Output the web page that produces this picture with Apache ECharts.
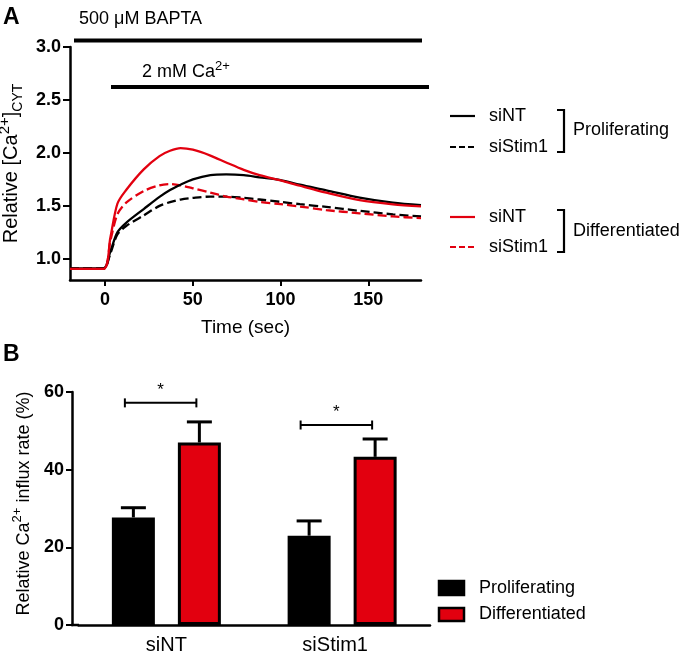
<!DOCTYPE html>
<html>
<head>
<meta charset="utf-8">
<script src="https://cdn.jsdelivr.net/npm/echarts@6/dist/echarts.min.js"></script>
<style>html,body{margin:0;padding:0;background:#fff}#c{width:685px;height:653px}</style>
</head>
<body>
<div id="c"></div>
<script>
// ---------- Panel A data ----------
const times = [-20, -1, 3, 7, 12, 22, 31, 37, 43, 50, 60, 69, 79, 88, 100, 111, 126, 145, 164, 180];
const profSiNT   = [0.91, 0.91, 1.07, 1.25, 1.34, 1.47, 1.585, 1.65, 1.70, 1.75, 1.79, 1.797, 1.79, 1.77, 1.744, 1.70, 1.647, 1.578, 1.53, 1.506];
const profSiStim1 = [0.91, 0.91, 1.05, 1.23, 1.31, 1.41, 1.50, 1.535, 1.56, 1.575, 1.5875, 1.5875, 1.575, 1.56, 1.5375, 1.516, 1.49, 1.453, 1.42, 1.40];
const diffSiNT   = [0.905, 0.905, 1.20, 1.52, 1.65, 1.845, 1.97, 2.02, 2.045, 2.03, 1.975, 1.91, 1.84, 1.79, 1.74, 1.69, 1.625, 1.555, 1.515, 1.495];
const diffSiStim1 = [0.905, 0.905, 1.17, 1.42, 1.53, 1.64, 1.694, 1.706, 1.694, 1.666, 1.625, 1.588, 1.5625, 1.5375, 1.516, 1.494, 1.46, 1.43, 1.40, 1.384];
const aXTicks = [0, 50, 100, 150];
const aYTicks = [1.0, 1.5, 2.0, 2.5, 3.0];

// ---------- Panel B data ----------
const bCategories = ['siNT', 'siStim1'];
const bProlif = [27.7, 23.0];
const bProlifErr = [30.2, 26.8];
const bDiff = [47.0, 43.3];
const bDiffErr = [52.3, 47.9];
const bSigY = [57.2, 51.5];
const bYTicks = [0, 20, 40, 60];

const FONT = '"Liberation Sans", Arial, Helvetica, sans-serif';
const RED = '#e2000f';
const chart = echarts.init(document.getElementById('c'), null, {renderer: 'canvas'});

function pairs(ts, vs) { return ts.map((t, i) => [t, vs[i]]); }

const lineBase = {type: 'line', xAxisIndex: 0, yAxisIndex: 0, showSymbol: false, symbol: 'none', smooth: 0.3, clip: true, z: 3};

const BW = 43, BGAP = 23, OFF = (BW + BGAP) / 2;

function errRender(sign) {
  return function (params, api) {
    const c = api.value(0);
    const top = api.coord([c, api.value(1)]);
    const et = api.coord([c, api.value(2)]);
    const x = top[0] + sign * OFF;
    return {type: 'group', children: [
      {type: 'line', shape: {x1: x, y1: top[1], x2: x, y2: et[1]}, style: {stroke: '#000', lineWidth: 3}},
      {type: 'line', shape: {x1: x - 12.5, y1: et[1], x2: x + 12.5, y2: et[1]}, style: {stroke: '#000', lineWidth: 3}}
    ]};
  };
}

function sigRender(params, api) {
  const c = api.value(0);
  const p = api.coord([c, api.value(1)]);
  const x1 = p[0] - 41.5, x2 = p[0] + 30;
  const y = p[1];
  return {type: 'group', children: [
    {type: 'line', shape: {x1: x1, y1: y, x2: x2, y2: y}, style: {stroke: '#000', lineWidth: 2}},
    {type: 'line', shape: {x1: x1, y1: y - 4.5, x2: x1, y2: y + 4.5}, style: {stroke: '#000', lineWidth: 2}},
    {type: 'line', shape: {x1: x2, y1: y - 4.5, x2: x2, y2: y + 4.5}, style: {stroke: '#000', lineWidth: 2}},
    {type: 'text', style: {text: '*', x: (x1 + x2) / 2, y: y - 4, align: 'center', verticalAlign: 'bottom', font: '17px ' + FONT, fill: '#000'}}
  ]};
}

const supRich = {
  a: {fontSize: 20, fontFamily: FONT, color: '#000', lineHeight: 28},
  s: {fontSize: 15, fontFamily: FONT, color: '#000', verticalAlign: 'top', lineHeight: 15},
  b: {fontSize: 14, fontFamily: FONT, color: '#000', verticalAlign: 'bottom', lineHeight: 13}
};

function axisLine() { return {show: true, onZero: false, lineStyle: {color: '#000', width: 2.5}}; }

const option = {
  backgroundColor: '#fff',
  animation: false,
  grid: [
    {left: 70, top: 47, width: 351, height: 233, containLabel: false, outerBoundsMode: 'none'},
    {left: 78.5, top: 392, width: 351.5, height: 233, containLabel: false, outerBoundsMode: 'none'}
  ],
  xAxis: [
    {type: 'value', gridIndex: 0, min: -20, max: 180,
     axisLine: axisLine(),
     axisTick: {show: true, customValues: aXTicks, length: 6, lineStyle: {color: '#000', width: 2}},
     axisLabel: {customValues: aXTicks, color: '#000', fontWeight: 'bold', fontSize: 18, fontFamily: FONT, margin: 11},
     splitLine: {show: false},
     name: 'Time (sec)', nameLocation: 'middle', nameGap: 38,
     nameTextStyle: {fontSize: 19, fontFamily: FONT, color: '#000'}},
    {type: 'category', gridIndex: 1, data: [{value: 'siNT'}, {value: 'siStim1', textStyle: {padding: [0, 14, 0, 0]}}],
     axisLine: axisLine(),
     axisTick: {show: false},
     axisLabel: {color: '#000', fontSize: 20, fontFamily: FONT, margin: 10}}
  ],
  yAxis: [
    {type: 'value', gridIndex: 0, min: 0.8, max: 3.0,
     axisLine: axisLine(),
     axisTick: {show: true, customValues: aYTicks, length: 7, lineStyle: {color: '#000', width: 2}},
     axisLabel: {customValues: aYTicks, formatter: v => Number(v).toFixed(1), color: '#000', fontWeight: 'bold', fontSize: 18, fontFamily: FONT, margin: 9},
     splitLine: {show: false},
     name: '{a|Relative [Ca}{s|2+}{a|]}{b|CYT}', nameLocation: 'middle', nameGap: 38, nameRotate: 90,
     nameTextStyle: {rich: supRich}},
    {type: 'value', gridIndex: 1, min: 0, max: 60, interval: 20, offset: 6.5,
     axisLine: axisLine(),
     axisTick: {show: true, length: 6, lineStyle: {color: '#000', width: 2}},
     axisLabel: {color: '#000', fontWeight: 'bold', fontSize: 18, fontFamily: FONT, margin: 8},
     splitLine: {show: false},
     name: '{a|Relative Ca}{s|2+}{a| influx rate (%)}', nameLocation: 'middle', nameGap: 31, nameRotate: 90,
     nameTextStyle: {rich: {a: {fontSize: 18, fontFamily: FONT, color: '#000', lineHeight: 26}, s: {fontSize: 13, fontFamily: FONT, color: '#000', verticalAlign: 'top', lineHeight: 13}}, padding: [0, 0, 0, 10]}}
  ],
  series: [
    Object.assign({}, lineBase, {name: 'Prolif siStim1', data: pairs(times, profSiStim1), lineStyle: {color: '#000', width: 2.3, type: [9, 4]}}),
    Object.assign({}, lineBase, {name: 'Diff siStim1', data: pairs(times, diffSiStim1), lineStyle: {color: RED, width: 2.3, type: [9, 4]}}),
    Object.assign({}, lineBase, {name: 'Prolif siNT', data: pairs(times, profSiNT), lineStyle: {color: '#000', width: 2.3}}),
    Object.assign({}, lineBase, {name: 'Diff siNT', data: pairs(times, diffSiNT), lineStyle: {color: RED, width: 2.3}}),
    {type: 'bar', name: 'Proliferating', xAxisIndex: 1, yAxisIndex: 1, data: bProlif, barWidth: BW, barGap: (BGAP / BW * 100) + '%',
     itemStyle: {color: '#000', borderColor: '#000', borderWidth: 3}},
    {type: 'bar', name: 'Differentiated', xAxisIndex: 1, yAxisIndex: 1, data: bDiff, barWidth: BW, barGap: (BGAP / BW * 100) + '%',
     itemStyle: {color: RED, borderColor: '#000', borderWidth: 3}},
    {type: 'custom', xAxisIndex: 1, yAxisIndex: 1, renderItem: errRender(-1), data: bCategories.map((c, i) => [i, bProlif[i], bProlifErr[i]]), z: 5},
    {type: 'custom', xAxisIndex: 1, yAxisIndex: 1, renderItem: errRender(1), data: bCategories.map((c, i) => [i, bDiff[i], bDiffErr[i]]), z: 5},
    {type: 'custom', xAxisIndex: 1, yAxisIndex: 1, renderItem: sigRender, data: bCategories.map((c, i) => [i, bSigY[i]]), z: 5, clip: false}
  ],
  graphic: [
    // panel letters
    {type: 'text', left: 3, top: 6, style: {text: 'A', font: 'bold 23px ' + FONT, fill: '#000'}},
    {type: 'text', left: 3, top: 343, style: {text: 'B', font: 'bold 23px ' + FONT, fill: '#000'}},
    // treatment bars
    {type: 'text', left: 79, top: 10, style: {text: '500 \u03bcM BAPTA', font: '18px ' + FONT, fill: '#000'}},
    {type: 'line', shape: {x1: 74, y1: 40.5, x2: 422, y2: 40.5}, style: {stroke: '#000', lineWidth: 4}},
    {type: 'text', left: 142, top: 60, style: {text: '{a|2 mM Ca}{s|2+}', rich: {a: {fontSize: 18, fontFamily: FONT, lineHeight: 24}, s: {fontSize: 13, fontFamily: FONT, verticalAlign: 'top', lineHeight: 13}}}},
    {type: 'line', shape: {x1: 111, y1: 87, x2: 429, y2: 87}, style: {stroke: '#000', lineWidth: 4}},
    // top legend
    {type: 'line', shape: {x1: 450, y1: 116, x2: 475, y2: 116}, style: {stroke: '#000', lineWidth: 2.2}},
    {type: 'line', shape: {x1: 450, y1: 147, x2: 475, y2: 147}, style: {stroke: '#000', lineWidth: 2.2, lineDash: [6, 3]}},
    {type: 'line', shape: {x1: 450, y1: 217, x2: 475, y2: 217}, style: {stroke: RED, lineWidth: 2.2}},
    {type: 'line', shape: {x1: 450, y1: 247, x2: 475, y2: 247}, style: {stroke: RED, lineWidth: 2.2, lineDash: [6, 3]}},
    {type: 'text', x: 489, y: 116, style: {text: 'siNT', font: '18px ' + FONT, fill: '#000', verticalAlign: 'middle'}},
    {type: 'text', x: 489, y: 147, style: {text: 'siStim1', font: '18px ' + FONT, fill: '#000', verticalAlign: 'middle'}},
    {type: 'text', x: 489, y: 217, style: {text: 'siNT', font: '18px ' + FONT, fill: '#000', verticalAlign: 'middle'}},
    {type: 'text', x: 489, y: 247, style: {text: 'siStim1', font: '18px ' + FONT, fill: '#000', verticalAlign: 'middle'}},
    {type: 'polyline', shape: {points: [[557, 110], [564, 110], [564, 152], [557, 152]]}, style: {stroke: '#000', lineWidth: 2.2, fill: null}},
    {type: 'polyline', shape: {points: [[557, 210], [564, 210], [564, 252], [557, 252]]}, style: {stroke: '#000', lineWidth: 2.2, fill: null}},
    {type: 'text', x: 573, y: 130, style: {text: 'Proliferating', font: '18px ' + FONT, fill: '#000', verticalAlign: 'middle'}},
    {type: 'text', x: 573, y: 231, style: {text: 'Differentiated', font: '18px ' + FONT, fill: '#000', verticalAlign: 'middle'}},
    // bottom legend
    {type: 'rect', shape: {x: 439, y: 581, width: 25, height: 14}, style: {fill: '#000', stroke: '#000', lineWidth: 2.5}},
    {type: 'rect', shape: {x: 439, y: 608, width: 25, height: 13}, style: {fill: RED, stroke: '#000', lineWidth: 2.5}},
    {type: 'text', x: 479, y: 588, style: {text: 'Proliferating', font: '18px ' + FONT, fill: '#000', verticalAlign: 'middle'}},
    {type: 'text', x: 479, y: 614, style: {text: 'Differentiated', font: '18px ' + FONT, fill: '#000', verticalAlign: 'middle'}},
    // close the corner between offset y-axis and x-axis in panel B
    {type: 'line', shape: {x1: 71, y1: 625, x2: 79, y2: 625}, style: {stroke: '#000', lineWidth: 2.5}}
  ]
};
chart.setOption(option);
</script>
</body>
</html>
